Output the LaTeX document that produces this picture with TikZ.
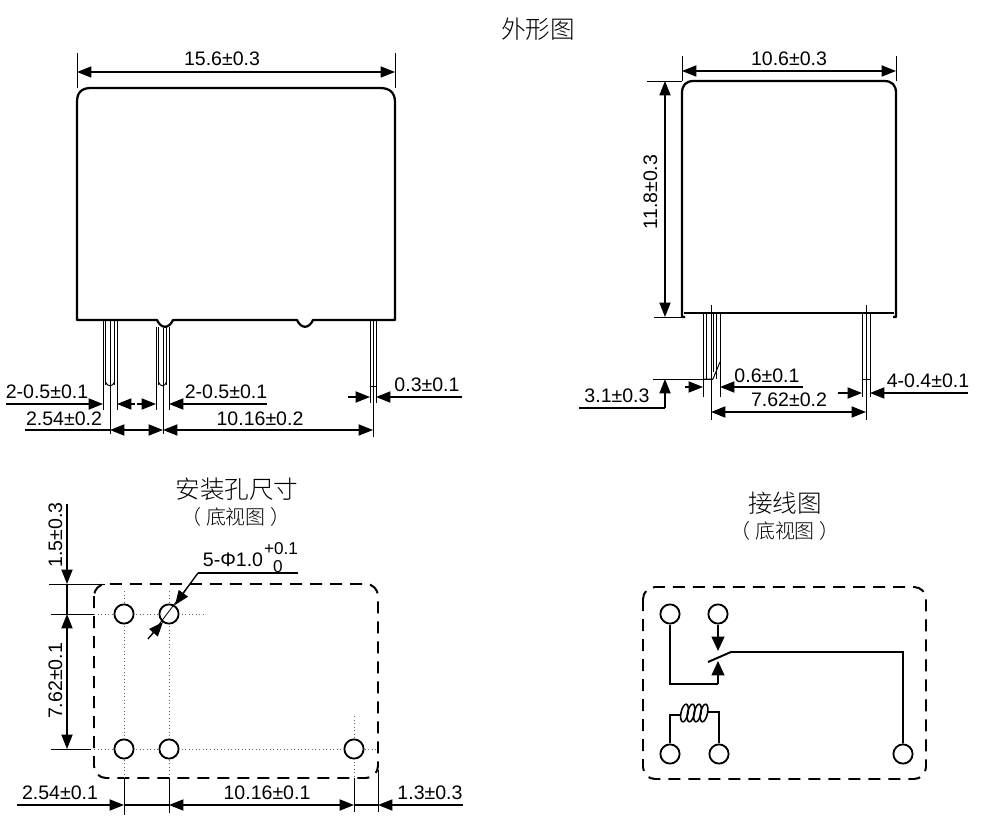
\documentclass[tikz,border=0pt]{standalone}
\usepackage{fontspec}
\setmainfont{Liberation Sans}
\newfontfamily\cjk{Noto Sans CJK SC Light}
\usetikzlibrary{arrows.meta}
\tikzset{
  outline/.style={line width=1.6pt, line join=round},
  pin/.style={line width=0.7pt},
  ext/.style={line width=0.6pt},
  dim/.style={line width=0.8pt, -{Triangle[length=0.36cm,width=0.28cm]}},
  dimboth/.style={line width=0.8pt, {Triangle[length=0.36cm,width=0.28cm]}-{Triangle[length=0.36cm,width=0.28cm]}},
  plain/.style={line width=0.8pt},
  val/.style={font=\fontsize{13.9}{14}\selectfont, inner sep=0pt, anchor=base},
  small/.style={font=\fontsize{12.2}{12}\selectfont, inner sep=0pt, anchor=base},
  head/.style={font=\cjk\fontsize{17.5}{18}\selectfont, inner sep=0pt},
  subhead/.style={font=\cjk\fontsize{14.2}{14}\selectfont, inner sep=0pt},
  hole/.style={draw, line width=1.3pt, circle, minimum size=0.48cm, inner sep=0pt, fill=white},
  frame/.style={line width=1.4pt, dash pattern=on 0.3cm off 0.2cm, rounded corners=0.3cm},
  centre/.style={line width=0.5pt, dotted, gray!80!black},
  wire/.style={line width=1.4pt},
  contact/.style={line width=1.4pt, -{Triangle[length=0.36cm,width=0.32cm]}}
}
\begin{document}
\begin{tikzpicture}[x=0.025cm,y=-0.025cm]
\useasboundingbox (0,0) rectangle (1000,839);

% titles
\node[head] (titleoutline) at (538,29) {外形图};
\node[head] (titlehole) at (237,489) {安装孔尺寸};
\node[subhead] (subhole) at (236,517) {（\kern0.25em 底视图\kern0.25em ）};
\node[head] (titlewire) at (785,503) {接线图};
\node[subhead] (subwire) at (785,531) {（\kern0.25em 底视图\kern0.25em ）};

% front view
\draw[outline] (77,320) -- (77,102) .. controls (77,93) and (81,88) .. (91,88) -- (380,88)
  .. controls (390,88) and (395,93) .. (395,102) -- (395,320) -- (313,320)
  .. controls (309,329) and (301,329) .. (297,320) -- (173,320)
  .. controls (169,329) and (161,329) .. (157,320) -- cycle;
\foreach \x in {103,105.5,114.5,117} \draw[pin] (\x,320) -- (\x,385);
\foreach \x in {156,158.5,166.5,169} \draw[pin] (\x,327) -- (\x,385);
\foreach \x in {370,376} \draw[pin] (\x,320) -- (\x,386);
\draw[pin] (105.5,382) .. controls (107,387) and (113,387) .. (114.5,382);
\draw[pin] (158.5,382) .. controls (160,387) and (165,387) .. (166.5,382);
\draw[pin] (370,386) -- (376,386);
\foreach \x in {103,117,156,169} \draw[ext] (\x,385) -- (\x,410);
\foreach \x in {370,376} \draw[ext] (\x,386) -- (\x,403);
\draw[ext] (110,320) -- (110,434);
\draw[ext] (163,328) -- (163,434);
\draw[ext] (373,320) -- (373,437);
\draw[ext] (77,53) -- (77,88);
\draw[ext] (395,53) -- (395,88);
\draw[dimboth] (77,72) -- (395,72);
\node[val] (fw) at (222,66) {15.6±0.3};

\draw[dim] (6,404) -- (103,404);
\draw[dim] (135,404) -- (117,404);
\draw[dim] (137,404) -- (156,404);
\draw[dim] (267,404) -- (169,404);
\node[val] (pina) at (47,399) {2-0.5±0.1};
\node[val] (pinb) at (226,399) {2-0.5±0.1};
\draw[plain] (25,430) -- (110,430);
\draw[dimboth] (110,430) -- (163,430);
\draw[dimboth] (163,430) -- (373,430);
\node[val] (pitcha) at (64,426) {2.54±0.2};
\node[val] (pitchb) at (260,426) {10.16±0.2};
\draw[dim] (348,397) -- (370,397);
\draw[dim] (462,397) -- (376,397);
\node[val] (pinc) at (427,392) {0.3±0.1};

% side view
\draw[outline] (685,317) -- (682,317) -- (682,93) .. controls (682,85) and (686,81) .. (694,81) -- (884,81)
  .. controls (892,81) and (896,85) .. (896,93) -- (896,317) -- (893,317);
\draw[outline] (684,313) -- (894,313);
\foreach \x in {703,706,716,720} \draw[pin] (\x,313) -- (\x,379);
\draw[pin] (713,313) -- (713,372);
\draw[pin] (703,379) -- (713,379) -- (720,362);
\foreach \x in {862,870} \draw[pin] (\x,313) -- (\x,379);
\draw[pin] (862,379) -- (870,379);
\foreach \x in {703,720,862,870} \draw[ext] (\x,379) -- (\x,397);
\draw[ext] (711,305) -- (711,420);
\draw[ext] (866,305) -- (866,420);
\draw[ext] (682,56) -- (682,81);
\draw[ext] (896,56) -- (896,81);
\draw[dimboth] (682,71) -- (896,71);
\node[val] (sw) at (789,66) {10.6±0.3};

\draw[ext] (647,81) -- (682,81);
\draw[ext] (654,317) -- (684,317);
\draw[ext] (653,379) -- (713,379);
\draw[dimboth] (665,81) -- (665,317);
\draw[dim] (665,408) -- (665,379);
\draw[plain] (579,408) -- (665,408);
\node[val, rotate=90] (sh) at (657,192) {11.8±0.3};
\node[val] (st) at (617,403) {3.1±0.3};
\draw[dim] (685,387) -- (703,387);
\draw[dim] (803,387) -- (720,387);
\node[val] (sp) at (767,383) {0.6±0.1};
\draw[dim] (838,393) -- (862,393);
\draw[dim] (968,393) -- (870,393);
\node[val] (sq) at (928,388) {4-0.4±0.1};
\draw[dimboth] (711,412) -- (866,412);
\node[val] (spitch) at (789,407) {7.62±0.2};

% mounting holes
\draw[frame] (94,584) rectangle (378,778);
\draw[centre] (94,614) -- (205,614);
\draw[centre] (94,749) -- (378,749);
\draw[centre] (124,591) -- (124,778);
\draw[centre] (169,591) -- (169,778);
\draw[centre] (354,716) -- (354,778);
\node[hole] (ha) at (124,614) {};
\node[hole] (hb) at (169,614) {};
\node[hole] (hc) at (124,749) {};
\node[hole] (hd) at (169,749) {};
\node[hole] (he) at (354,749) {};
\draw[ext] (148,639) -- (198,573);
\draw[dim] (198,573) -- (175,605);
\draw[dim] (148,639) -- (163,622);
\draw[plain] (198,573) -- (298,573);
\node[val] (dia) at (233,566) {5-Φ1.0};
\node[small] (tolup) at (281,554) {+0.1};
\node[small] (tollow) at (278,572) {0};

\draw[ext] (49,584) -- (105,584);
\draw[ext] (51,614) -- (94,614);
\draw[ext] (51,749) -- (91,749);
\draw[dim] (67,504) -- (67,584);
\draw[plain] (67,584) -- (67,614);
\draw[dimboth] (67,614) -- (67,749);
\node[val, rotate=90] (va) at (62,535) {1.5±0.3};
\node[val, rotate=90] (vb) at (62,681) {7.62±0.1};
\foreach \x/\y in {124/815,169/813,354/812} \draw[ext] (\x,778) -- (\x,\y);
\draw[ext] (378,770) -- (378,812);
\draw[dim] (17,805) -- (124,805);
\draw[plain] (124,805) -- (169,805);
\draw[dimboth] (169,805) -- (354,805);
\draw[plain] (354,805) -- (378,805);
\draw[dim] (463,805) -- (378,805);
\node[val] (ba) at (60,799) {2.54±0.1};
\node[val] (bb) at (267,799) {10.16±0.1};
\node[val] (bc) at (430,799) {1.3±0.3};

% wiring
\draw[frame] (643,587) rectangle (926,779);
\node[hole] (ta) at (670,614) {};
\node[hole] (tb) at (718,614) {};
\node[hole] (tc) at (670,754) {};
\node[hole] (td) at (719,754) {};
\node[hole] (te) at (903,754) {};
\coordinate (no) at (718,651);
\coordinate (nc) at (718,661);
\coordinate (armend) at (708,662);
\coordinate (armknee) at (731,652);
\draw[contact] (tb) -- (no);
\draw[wire] (ta) |- (718,684);
\draw[contact] (718,684) -- (nc);
\draw[wire] (armend) -- (armknee) -| (te);
\draw[wire] (tc) |- (680,715);
\draw[wire] (td) |- (708,712);
\foreach \x in {684.5,691,697.5,704}
  \draw[line width=1.1pt] (\x,713) ellipse [x radius=3.5, y radius=9, rotate=-12];
\end{tikzpicture}
\end{document}
